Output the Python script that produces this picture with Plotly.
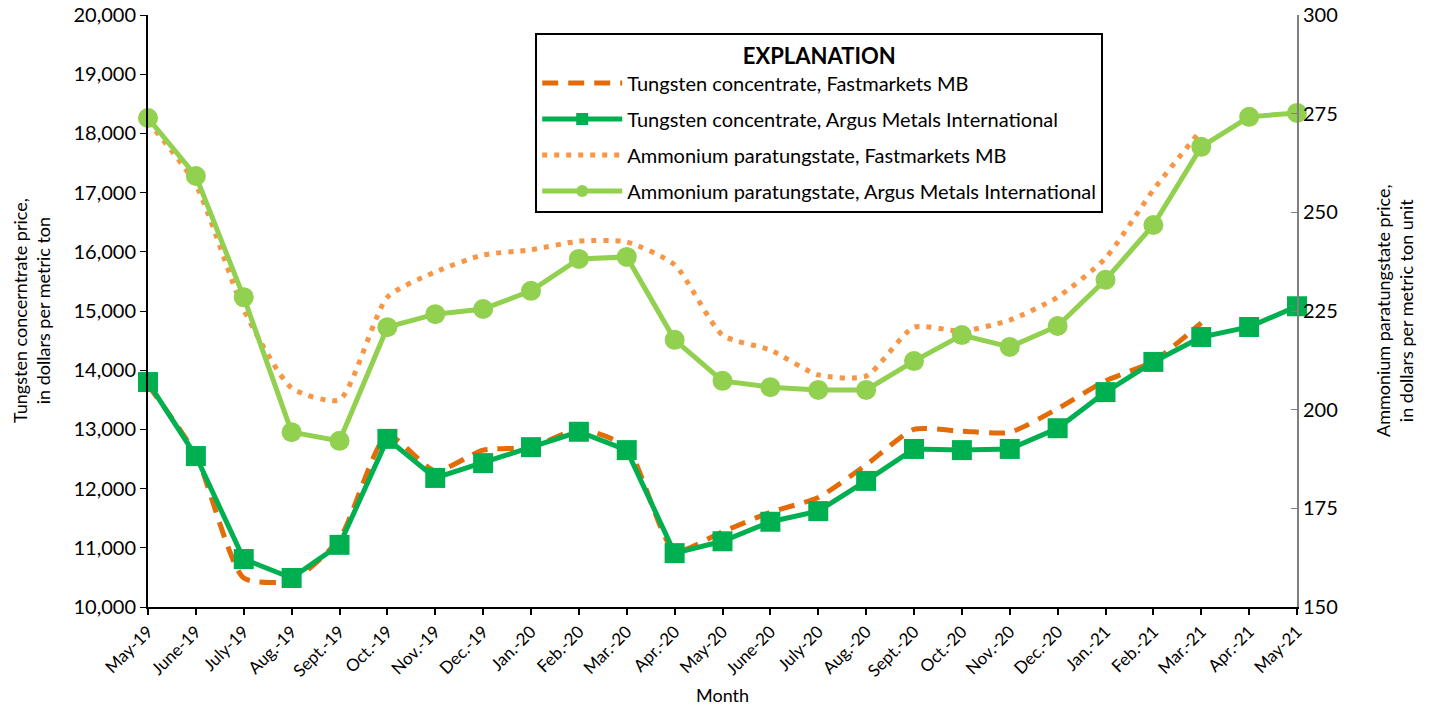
import plotly.graph_objects as go

months = ["May-19", "June-19", "July-19", "Aug.-19", "Sept.-19", "Oct.-19", "Nov.-19", "Dec.-19",
          "Jan.-20", "Feb.-20", "Mar.-20", "Apr.-20", "May-20", "June-20", "July-20", "Aug.-20",
          "Sept.-20", "Oct.-20", "Nov.-20", "Dec.-20", "Jan.-21", "Feb.-21", "Mar.-21", "Apr.-21", "May-21"]

# Tungsten concentrate, dollars per metric ton
tc_fastmarkets = [13750, 12570, 10490, 10450, 11150, 12900, 12300, 12650, 12700, 13000, 12700, 10950,
                  11270, 11600, 11850, 12400, 13000, 12970, 12950, 13350, 13820, 14150, 14800]
tc_argus = [13800, 12550, 10810, 10490, 11050, 12840, 12180, 12430, 12700, 12960, 12650, 10910,
            11110, 11440, 11620, 12130, 12670, 12650, 12670, 13020, 13630, 14140, 14560, 14730, 15080]

# Ammonium paratungstate, dollars per metric ton unit
apt_fastmarkets = [273, 257, 225.3, 205.5, 202.5, 228.5, 234.9, 239.2, 240.5, 242.7, 242.5, 236.7,
                   218.9, 215.1, 208.8, 208.5, 220.9, 219.9, 222.7, 228.5, 238.4, 255.7, 270.9]
apt_argus = [273.9, 259.2, 228.5, 194.3, 192.1, 220.9, 224.2, 225.5, 230.1, 238.2, 238.7, 217.7,
             207.3, 205.7, 205.0, 205.0, 212.3, 218.9, 215.9, 221.2, 232.9, 246.8, 266.6, 274.2, 275.2]

FONT = "Lato"

fig = go.Figure()
fig.add_trace(go.Scatter(
    x=months[:len(tc_fastmarkets)], y=tc_fastmarkets, name="Tungsten concentrate, Fastmarkets MB",
    mode="lines", line=dict(color="#E36C09", width=5, dash="16px,10px", shape="spline", smoothing=0.6),
    yaxis="y", cliponaxis=False, legendgroup="g1"))
fig.add_trace(go.Scatter(
    x=months, y=tc_argus, name="Tungsten concentrate, Argus Metals International",
    mode="lines+markers", line=dict(color="#00B050", width=5),
    marker=dict(symbol="square", size=20, color="#00B050"),
    yaxis="y", cliponaxis=False, legendgroup="g2"))
fig.add_trace(go.Scatter(
    x=months[:len(apt_fastmarkets)], y=apt_fastmarkets, name="Ammonium paratungstate, Fastmarkets MB",
    mode="lines", line=dict(color="#F79646", width=5, dash="5px,7px", shape="spline", smoothing=0.6),
    yaxis="y2", cliponaxis=False, legendgroup="g3"))
fig.add_trace(go.Scatter(
    x=months, y=apt_argus, name="Ammonium paratungstate, Argus Metals International",
    mode="lines+markers", line=dict(color="#92D050", width=5),
    marker=dict(symbol="circle", size=20, color="#92D050"),
    yaxis="y2", cliponaxis=False, legendgroup="g4"))

fig.update_layout(
    width=1432, height=708,
    margin=dict(l=148, r=135, t=15, b=101, autoexpand=False),
    paper_bgcolor="white", plot_bgcolor="white",
    font=dict(family=FONT, size=18, color="black"),
    showlegend=True,
    legend=dict(
        x=0.337, y=0.9696, xanchor="left", yanchor="top",
        bordercolor="black", borderwidth=2, bgcolor="white",
        font=dict(size=20, family=FONT),
        title=dict(text="<b>EXPLANATION</b>", side="top center", font=dict(size=22, family=FONT)),
        itemwidth=80, tracegroupgap=7, itemsizing="constant",
    ),
    xaxis=dict(
        type="category", range=[0, 24], tickangle=-45, automargin=False,
        showline=True, linecolor="black", linewidth=2, mirror=False,
        ticks="outside", ticklen=6, tickcolor="black", tickwidth=1.5,
        showgrid=False, zeroline=False,
        tickfont=dict(size=17), ticklabeloverflow="allow",
    ),
    yaxis=dict(
        range=[10000, 20000], dtick=1000, tickformat=",d", automargin=False,
        showline=True, linecolor="black", linewidth=2,
        ticks="outside", ticklen=6, tickcolor="black",
        showgrid=False, zeroline=False,
        tickfont=dict(size=20), ticklabeloverflow="allow",
    ),
    yaxis2=dict(
        range=[150, 300], dtick=25, overlaying="y", side="right", automargin=False,
        showline=True, linecolor="#808080", linewidth=2,
        ticks="inside", ticklen=6, tickcolor="#808080",
        showgrid=False, zeroline=False,
        tickfont=dict(size=20), ticklabeloverflow="allow",
    ),
    annotations=[
        dict(text="Month", xref="paper", yref="paper", x=0.5, y=(607 - 695) / 592,
             xanchor="center", yanchor="middle", showarrow=False, font=dict(size=18)),
        dict(text="Tungsten concerntrate price,<br>in dollars per metric ton", xref="paper", yref="paper",
             x=(31 - 148) / 1149, y=0.5, textangle=-90, xanchor="center", yanchor="middle",
             showarrow=False, font=dict(size=18)),
        dict(text="Ammonium paratungstate price,<br>in dollars per metric ton unit", xref="paper", yref="paper",
             x=(1394 - 148) / 1149, y=0.5, textangle=-90, xanchor="center", yanchor="middle",
             showarrow=False, font=dict(size=18)),
    ],
)

fig.write_html("out.html", config={"displayModeBar": False},
               post_script="document.body.style.margin='0';")
